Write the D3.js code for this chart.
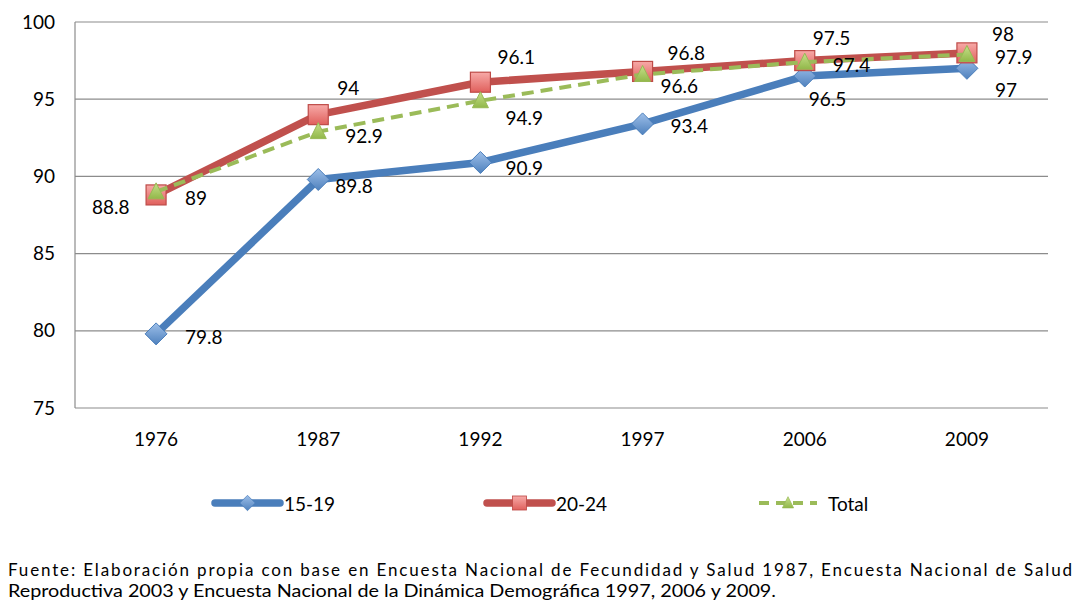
<!DOCTYPE html>
<html>
<head>
<meta charset="utf-8">
<script src="https://cdn.jsdelivr.net/npm/d3@7"></script>
<style>
  body { margin: 0; background: #fff; }
  svg { display: block; }
</style>
</head>
<body>
<script>
// datos
const years = ['1976', '1987', '1992', '1997', '2006', '2009']
const serie1519 = [79.8, 89.8, 90.9, 93.4, 96.5, 97]
const serie2024 = [88.8, 94, 96.1, 96.8, 97.5, 98]
const serieTotal = [89, 92.9, 94.9, 96.6, 97.4, 97.9]
const yTicks = [75, 80, 85, 90, 95, 100]
const seriesNames = ['15-19', '20-24', 'Total']
const fuente = [
    'Fuente: Elaboración propia con base en Encuesta Nacional de Fecundidad y Salud 1987, Encuesta Nacional de Salud',
    'Reproductiva 2003 y Encuesta Nacional de la Dinámica Demográfica 1997, 2006 y 2009.'
]

const width = 1080, height = 613
const margin = {left: 75, right: 32, top: 22, bottom: 205}

// desplazamiento de las etiquetas (a mano, como en el original)
const nudges = [
    [[29, 3], [17, 6], [25, 5], [28, 2], [4, 22], [28, 21]],
    [[-64, 12], [19, -27], [17, -26], [25, -19], [8, -23], [25, -19]],
    [[29, 6], [27, 4], [25, 17], [18, 11], [28, 2], [28, 2]]
]

const svg = d3.select('body').append('svg').attr('width', width).attr('height', height)
const font = 'Lato, "Liberation Sans", sans-serif'

const x = d3.scaleBand(years, [margin.left, width - margin.right])
const y = d3.scaleLinear([75, 100], [height - margin.bottom, margin.top])

// degradados para los marcadores
const defs = svg.append('defs')
function grad(id, c1, c2) {
    const g = defs.append('linearGradient').attr('id', id).attr('x1', 0).attr('y1', 0).attr('x2', 0).attr('y2', 1)
    g.append('stop').attr('offset', '0%').attr('stop-color', c1)
    g.append('stop').attr('offset', '100%').attr('stop-color', c2)
}
grad('gBlue', '#9dbfe9', '#4f81bd')
grad('gRed', '#f7aaa8', '#e0605c')
grad('gGreen', '#c6e08a', '#92b84a')

// rejilla
svg.append('g').selectAll('line').data(yTicks).join('line')
    .attr('x1', margin.left).attr('x2', width - margin.right)
    .attr('y1', d => y(d)).attr('y2', d => y(d))
    .attr('stroke', '#8c8c8c').attr('stroke-width', 1.2)
svg.append('line')
    .attr('x1', margin.left).attr('x2', margin.left)
    .attr('y1', y(100)).attr('y2', y(75))
    .attr('stroke', '#8c8c8c').attr('stroke-width', 1.2)

// ejes
const yAxis = svg.append('g').attr('transform', `translate(${margin.left},0)`)
    .call(d3.axisLeft(y).tickValues(yTicks).tickSize(0).tickPadding(20))
yAxis.select('.domain').remove()
yAxis.selectAll('text').attr('font-family', font).attr('font-size', 19).attr('fill', '#000')

const xAxis = svg.append('g').attr('transform', `translate(0,${y(75)})`)
    .call(d3.axisBottom(x).tickSize(0).tickPadding(25))
xAxis.select('.domain').remove()
xAxis.selectAll('text').attr('font-family', font).attr('font-size', 19).attr('fill', '#000')

const series = [
    {name: seriesNames[0], values: serie1519, color: '#4a7ebb', width: 7.5, dash: null, marker: 'diamond', fill: 'url(#gBlue)', stroke: '#4a7ebb'},
    {name: seriesNames[1], values: serie2024, color: '#c0504d', width: 7.5, dash: null, marker: 'square', fill: 'url(#gRed)', stroke: '#be4b48'},
    {name: seriesNames[2], values: serieTotal, color: '#9bbb59', width: 4, dash: '12,7', marker: 'triangle', fill: 'url(#gGreen)', stroke: '#98b954'}
]

const cx = d => x(d) + x.bandwidth() / 2
const line = d3.line().x((d, i) => cx(years[i])).y(d => y(d))

function drawMarker(g, type, fill, stroke) {
    if (type === 'diamond') {
        g.append('path').attr('d', 'M0,-11 L11,0 L0,11 L-11,0 Z')
            .attr('fill', fill).attr('stroke', stroke).attr('stroke-width', 1)
    } else if (type === 'square') {
        g.append('rect').attr('x', -10).attr('y', -10).attr('width', 20).attr('height', 20)
            .attr('fill', fill).attr('stroke', stroke).attr('stroke-width', 1.2)
    } else {
        g.append('path').attr('d', 'M0,-9 L8,7 L-8,7 Z')
            .attr('fill', fill).attr('stroke', stroke).attr('stroke-width', 1)
    }
}

series.forEach((s, si) => {
    svg.append('path').datum(s.values)
        .attr('d', line)
        .attr('fill', 'none')
        .attr('stroke', s.color)
        .attr('stroke-width', s.width)
        .attr('stroke-dasharray', s.dash)
        .attr('stroke-linejoin', 'round')

    s.values.forEach((v, i) => {
        const g = svg.append('g').attr('transform', `translate(${cx(years[i])},${y(v)})`)
        drawMarker(g, s.marker, s.fill, s.stroke)
    })
})

// etiquetas de datos
series.forEach((s, si) => {
    svg.append('g').selectAll('text').data(s.values).join('text')
        .attr('x', (d, i) => cx(years[i]) + nudges[si][i][0])
        .attr('y', (d, i) => y(d) + nudges[si][i][1])
        .attr('dominant-baseline', 'central')
        .attr('font-family', font).attr('font-size', 19).attr('fill', '#000')
        .text(d => d)
})

// leyenda
const legendX = [215, 487, 759]
const legendY = 503
series.forEach((s, i) => {
    const lw = i === 2 ? 58 : 65
    const g = svg.append('g').attr('transform', `translate(${legendX[i]},${legendY})`)
    g.append('line').attr('x1', 0).attr('x2', lw).attr('y1', 0).attr('y2', 0)
        .attr('stroke', s.color).attr('stroke-width', s.width)
        .attr('stroke-dasharray', s.dash ? '10,7' : null)
        .attr('stroke-linecap', s.dash ? 'butt' : 'round')
    const m = g.append('g').attr('transform', `translate(${lw / 2},0) scale(0.7)`)
    drawMarker(m, s.marker, s.fill, s.stroke)
    g.append('text').attr('x', lw + (i === 2 ? 11 : 4)).attr('y', 0)
        .attr('dominant-baseline', 'central')
        .attr('font-family', font).attr('font-size', 19).attr('fill', '#000')
        .text(s.name)
})

// fuente
const fnFont = 'Lato, "Liberation Sans", sans-serif'
svg.append('text').attr('x', 8).attr('y', 576)
    .attr('font-family', fnFont).attr('font-size', 17)
    .attr('textLength', 1064).attr('lengthAdjust', 'spacing')
    .text(fuente[0])
svg.append('text').attr('x', 8).attr('y', 597)
    .attr('font-family', fnFont).attr('font-size', 17)
    .attr('textLength', 768).attr('lengthAdjust', 'spacingAndGlyphs')
    .text(fuente[1])
</script>
</body>
</html>
